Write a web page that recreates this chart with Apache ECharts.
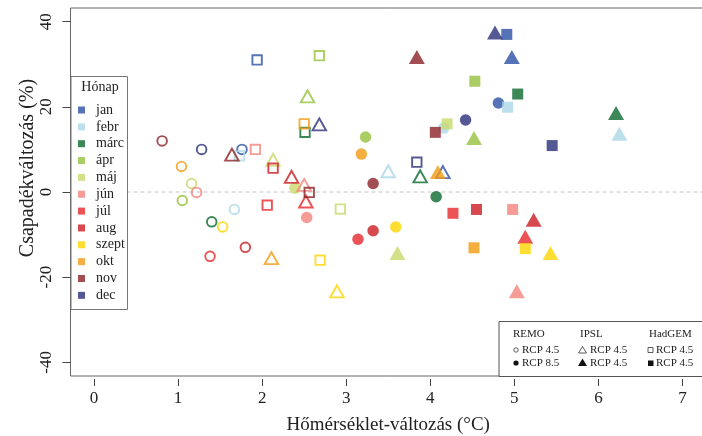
<!DOCTYPE html>
<html>
<head>
<meta charset="utf-8">
<script src="https://cdn.jsdelivr.net/npm/echarts@6/dist/echarts.min.js"></script>
<style>html,body{margin:0;padding:0;background:#fff}#c{width:702px;height:436px}</style>
</head>
<body>
<div id="c"></div>
<script>
// ---- data ----
const months = ['jan','febr','márc','ápr','máj','jún','júl','aug','szept','okt','nov','dec'];
const monthColors = ['#2b50a4','#aad8e6','#0b6a30','#95c23c','#c9da6c','#f1837a','#e6282c','#cc1b22','#ffd600','#f29b12','#8c2228','#2a2f78'];
// [temperature change (°C), precipitation change (%)] per month
const remo45   = [[1.76,10.0],[1.67,-4.1],[1.40,-7.0],[1.05,-2.0],[1.16,2.0],[1.22,-0.1],[1.38,-15.1],[1.80,-13.0],[1.53,-8.2],[1.04,6.0],[0.81,12.0],[1.28,10.0]];
const remo85   = [[4.81,20.9],[4.16,15.0],[4.07,-1.1],[3.23,12.9],[2.39,0.9],[2.53,-6.0],[3.14,-11.1],[3.32,-9.1],[3.59,-8.2],[3.18,8.9],[3.32,2.0],[4.42,16.9]];
const ipsl45   = [[4.15,4.2],[3.50,4.4],[3.88,3.2],[2.54,22.0],[2.13,7.1],[2.50,1.2],[2.52,-2.7],[2.35,3.1],[2.89,-23.8],[2.11,-16.0],[1.64,8.3],[2.68,15.4]];
const ipsl85   = [[4.97,31.2],[6.25,13.2],[6.21,18.1],[4.52,12.2],[3.61,-14.8],[5.03,-23.8],[5.13,-11.0],[5.23,-7.0],[5.43,-14.8],[4.09,4.2],[3.84,31.2],[4.77,37.0]];
const hadgem45 = [[1.94,31.0],[1.73,8.5],[2.51,14.0],[2.68,32.0],[2.93,-4.0],[1.92,10.0],[2.06,-3.1],[2.13,5.6],[2.69,-16.0],[2.50,16.0],[2.56,-0.1],[3.84,7.0]];
const hadgem85 = [[4.91,37.0],[4.92,19.9],[5.04,23.0],[4.53,26.0],[4.20,16.0],[4.98,-4.1],[4.27,-5.0],[4.55,-4.1],[5.13,-13.3],[4.52,-13.1],[4.06,14.0],[5.45,10.9]];
const xTicks = [0,1,2,3,4,5,6,7];
const yTicks = [-40,-20,0,20,40];
const zeroLine = [[-0.28,0],[7.28,0]];

// ---- chart ----
const SERIF = '"Liberation Serif","DejaVu Serif",serif';
const models = [
  {d: remo45,   sym: 'circle',   open: true},
  {d: remo85,   sym: 'circle',   open: false},
  {d: ipsl45,   sym: 'triangle', open: true},
  {d: ipsl85,   sym: 'triangle', open: false},
  {d: hadgem45, sym: 'rect',     open: true},
  {d: hadgem85, sym: 'rect',     open: false}
];
function symSize(m){
  if (m.sym === 'triangle') return m.open ? [13.5,12] : [16,14];
  if (m.sym === 'circle') return m.open ? 9.6 : 11.5;
  return m.open ? 9.4 : 11;
}
const series = [{
  type: 'line', data: zeroLine, symbol: 'none', silent: true, z: 1,
  lineStyle: {color: '#c4c4c4', width: 1, type: [4,3]}
}];
months.forEach((mName, i) => {
  const c = monthColors[i];
  series.push({
    name: mName, type: 'scatter', z: 3,
    itemStyle: {color: c},
    data: models.map(m => ({
      value: m.d[i],
      symbol: m.sym,
      symbolSize: symSize(m),
      symbolOffset: m.sym === 'triangle' ? [0,-2] : [0,0],
      itemStyle: m.open ? {color: 'rgba(0,0,0,0)', borderColor: c, borderWidth: 1.9} : {color: c, borderWidth: 0}
    }))
  });
});

const chart = echarts.init(document.getElementById('c'), null, {renderer: 'canvas'});
chart.setOption({
  animation: false,
  backgroundColor: '#fff',
  grid: {left: 70.5, top: 8, width: 635.5, height: 368, show: true, borderColor: '#666', borderWidth: 1, containLabel: false, outerBoundsMode: 'none'},
  xAxis: {
    type: 'value', min: -0.28, max: 7.28, offset: 3,
    axisLine: {show: false, onZero: false},
    splitLine: {show: false},
    axisTick: {show: true, length: 7, customValues: xTicks, lineStyle: {color: '#444'}},
    axisLabel: {customValues: xTicks, margin: 11, fontSize: 17, fontFamily: SERIF, color: '#222'},
    name: 'Hőmérséklet-változás (°C)', nameLocation: 'middle', nameGap: 37,
    nameTextStyle: {fontSize: 19, fontFamily: SERIF, color: '#222'}
  },
  yAxis: {
    type: 'value', min: -43.2, max: 43.2,
    axisLine: {show: false, onZero: false},
    splitLine: {show: false},
    axisTick: {show: true, length: 8, customValues: yTicks, lineStyle: {color: '#444'}},
    axisLabel: {customValues: yTicks, rotate: 90, margin: 15, fontSize: 17, fontFamily: SERIF, color: '#222'}
  },
  legend: {
    data: months, orient: 'vertical', left: 78, top: 103, padding: 0, z: 20,
    itemWidth: 7, itemHeight: 7, itemGap: 2.85, icon: 'rect', selectedMode: false,
    textStyle: {fontSize: 14, lineHeight: 14, fontFamily: SERIF, color: '#222', padding: [0,0,0,6]}
  },
  graphic: [
    {type: 'rect', left: 70.5, top: 76, z: 2, shape: {width: 56.5, height: 233}, style: {fill: '#fff', stroke: '#777', lineWidth: 1}},
    {type: 'text', x: 100, y: 87, z: 6, style: {text: 'Hónap', font: '14px ' + SERIF, fill: '#222', textAlign: 'center', textVerticalAlign: 'middle'}},
    {type: 'text', x: 28, y: 168, rotation: Math.PI/2, z: 6, style: {text: 'Csapadékváltozás (%)', font: '20px ' + SERIF, fill: '#222', textAlign: 'center', textVerticalAlign: 'middle'}},
    {type: 'rect', left: 498.5, top: 321, z: 5, shape: {width: 220, height: 55}, style: {fill: '#fff', stroke: '#555', lineWidth: 1}},
    {type: 'text', x: 513, y: 334, z: 6, style: {text: 'REMO', font: '11px ' + SERIF, fill: '#222', textVerticalAlign: 'middle'}},
    {type: 'text', x: 580, y: 334, z: 6, style: {text: 'IPSL', font: '11px ' + SERIF, fill: '#222', textVerticalAlign: 'middle'}},
    {type: 'text', x: 649, y: 334, z: 6, style: {text: 'HadGEM', font: '11px ' + SERIF, fill: '#222', textVerticalAlign: 'middle'}},
    {type: 'circle', z: 6, shape: {cx: 516, cy: 350, r: 2.2}, style: {fill: 'none', stroke: '#333', lineWidth: 0.8}},
    {type: 'circle', z: 6, shape: {cx: 516, cy: 363, r: 2.6}, style: {fill: '#111'}},
    {type: 'polygon', z: 6, shape: {points: [[582.5,346.5],[586.5,353],[578.5,353]]}, style: {fill: 'none', stroke: '#333', lineWidth: 0.8}},
    {type: 'polygon', z: 6, shape: {points: [[582.5,358.5],[587,366],[578,366]]}, style: {fill: '#111'}},
    {type: 'rect', z: 6, shape: {x: 648, y: 347.5, width: 5, height: 5}, style: {fill: 'none', stroke: '#333', lineWidth: 0.8}},
    {type: 'rect', z: 6, shape: {x: 648, y: 360.5, width: 5.5, height: 5.5}, style: {fill: '#111'}},
    {type: 'text', x: 522, y: 350, z: 6, style: {text: 'RCP 4.5', font: '11px ' + SERIF, fill: '#222', textVerticalAlign: 'middle'}},
    {type: 'text', x: 522, y: 363, z: 6, style: {text: 'RCP 8.5', font: '11px ' + SERIF, fill: '#222', textVerticalAlign: 'middle'}},
    {type: 'text', x: 590, y: 350, z: 6, style: {text: 'RCP 4.5', font: '11px ' + SERIF, fill: '#222', textVerticalAlign: 'middle'}},
    {type: 'text', x: 590, y: 363, z: 6, style: {text: 'RCP 4.5', font: '11px ' + SERIF, fill: '#222', textVerticalAlign: 'middle'}},
    {type: 'text', x: 656, y: 350, z: 6, style: {text: 'RCP 4.5', font: '11px ' + SERIF, fill: '#222', textVerticalAlign: 'middle'}},
    {type: 'text', x: 656, y: 363, z: 6, style: {text: 'RCP 4.5', font: '11px ' + SERIF, fill: '#222', textVerticalAlign: 'middle'}}
  ],
  series: series
});
</script>
</body>
</html>
